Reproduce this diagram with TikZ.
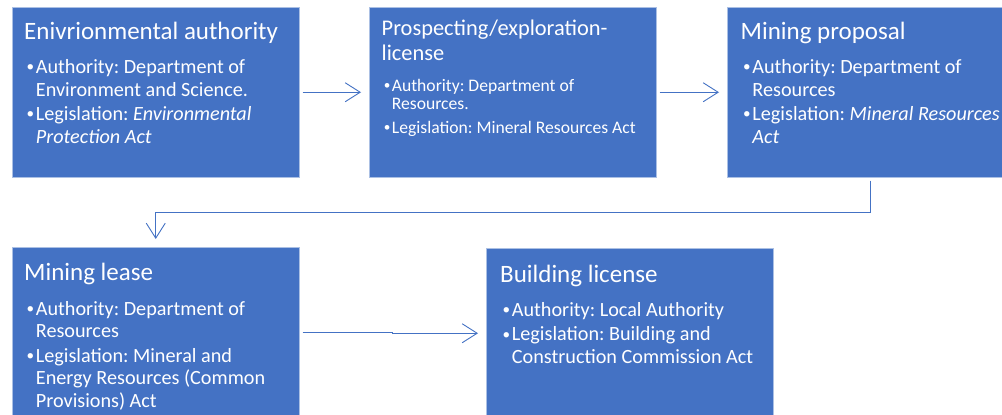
\documentclass[tikz,border=0pt]{standalone}
\usepackage{fontspec}
\setmainfont{Carlito}
\usetikzlibrary{positioning,arrows.meta,calc}
\definecolor{stageblue}{RGB}{68,114,196}

\newcommand{\stagetitle}[1]{{\fontsize{25}{25}\selectfont #1}}
\newcommand{\bul}{\makebox[0.58em][l]{\hspace{0.12em}\raisebox{0.08em}{\scalebox{0.75}{\textbullet}}}}
\newcommand{\ind}{\hspace*{0.58em}}
% fixed line pitch inside the boxes
\setlength{\lineskiplimit}{-50pt}
\frenchspacing

\begin{document}
\begin{tikzpicture}[
    x=1pt, y=-1pt,
    stage/.style={rectangle, fill=stageblue, draw=white!55!stageblue, line width=0.5pt, minimum width=287pt, minimum height=170pt, inner sep=0pt, anchor=north west},
    % base is the last line of the text
    stagetext/.style={text=white, align=left, anchor=base west, inner sep=0pt, font=\fontsize{20.2}{22.7}\selectfont},
    link/.style={draw=stageblue, line width=0.9pt, -{Straight Barb[length=15pt, width=19pt]}, shorten <=3pt, shorten >=8pt}
]
\clip (0,0) rectangle (1002,415);
\fill[white] (0,0) rectangle (1002,415);

% Stage boxes
\node[stage] (env) at (12,7) {};
\node[stage] (pros) at (369,7) {};
\node[stage] (prop) at (727,7) {};
\node[stage] (lease) at (12,247) {};
\node[stage] (build) at (486,248) {};

% Text of each stage
\node[stagetext] (envtxt) at (24,143) {\stagetitle{Enivrionmental authority}\\[11.6pt]
    \bul Authority: Department of\\
    \ind Environment and Science.\\[1.6pt]
    \bul Legislation: \textit{Environmental}\\
    \ind\textit{Protection Act}};
\node[stagetext, font=\fontsize{17.6}{18.3}\selectfont] (prostxt) at (381.5,133.3) {{\fontsize{22.4}{22}\selectfont Prospecting/exploration-}\\[6pt]
    {\fontsize{22.4}{22}\selectfont license}\\[12.7pt]
    \bul Authority: Department of\\
    \ind Resources.\\[5.7pt]
    \bul Legislation: Mineral Resources Act};
\node[stagetext] (proptxt) at (740.5,143) {\stagetitle{Mining proposal}\\[11.6pt]
    \bul Authority: Department of\\
    \ind Resources\\[1.6pt]
    \bul Legislation: \textit{Mineral Resources}\\
    \ind\textit{Act}};
\node[stagetext] (leasetxt) at (24,407.4) {\stagetitle{Mining lease}\\[11.6pt]
    \bul Authority: Department of\\
    \ind Resources\\[1.6pt]
    \bul Legislation: Mineral and\\
    \ind Energy Resources (Common\\
    \ind Provisions) Act};
\node[stagetext] (buildtxt) at (500,363.6) {\stagetitle{Building license}\\[11.6pt]
    \bul Authority: Local Authority\\[1.6pt]
    \bul Legislation: Building and\\
    \ind Construction Commission Act};

% Connectors
\draw[link] (env) -- (pros);
\draw[link] (pros) -- (prop);
\draw[link] (prop.south) -- ++(0,35) -| (lease.north);
\draw[link] (lease.east) -| ($(lease.east)!0.5!(build.west)$) |- (build.west);

\end{tikzpicture}
\end{document}
